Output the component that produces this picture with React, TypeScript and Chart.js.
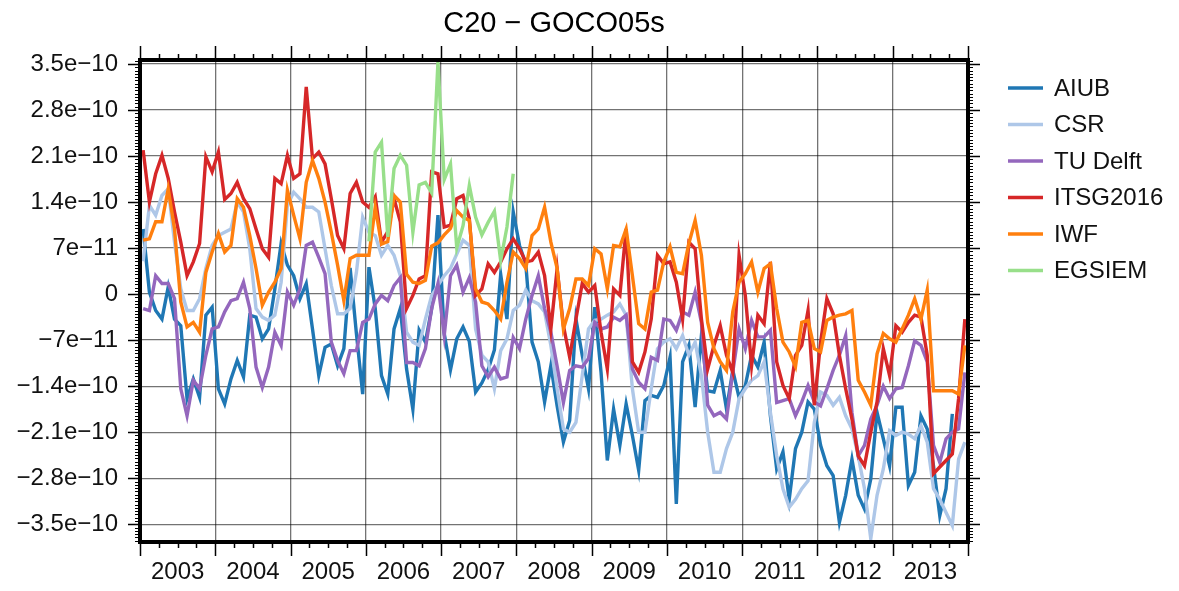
import React, { useEffect, useRef } from "react";
import { Chart, registerables } from "chart.js";

Chart.register(...registerables);

// values are in units of 1e-11
const UNIT = 1e-11;
const START_YEAR = 2003;
const END_YEAR = 2014;

const titleText = "C20 − GOCO05s";
const seriesNames = ["AIUB", "CSR", "TU Delft", "ITSG2016", "IWF", "EGSIEM"];
const seriesColors = ["#1f77b4", "#aec7e8", "#9467bd", "#d62728", "#ff7f0e", "#98df8a"];

const aiub = [
  9.9, 0.3, -2.5, -3.8, 1.1, -3.8, -4.8, -15.9, -12.9, -15.7,
  -3.2, -2.0, -14.4, -16.7, -12.9, -10.1, -12.6, -3.2, -3.5, -6.8,
  -5.3, 0.8, 7.7, 4.4, 2.8, -0.7, 1.6, -5.3, -12.4, -8.1,
  -7.6, -10.9, -8.3, 4.0, -6.0, -15.2, 4.1, -2.2, -12.4, -15.2,
  -5.3, -2.2, -11.4, -17.5, -5.5, -7.3, -2.2, 12.0, -6.0, -11.5,
  -6.8, -5.0, -7.2, -14.9, -13.5, -11.5, -8.5, 3.0, -3.8, 12.5,
  7.4, 4.6, -7.3, -10.3, -16.4, -10.9, -17.0, -22.5, -19.2, -3.8,
  -9.3, -14.4, -2.0, -11.9, -25.3, -17.5, -23.0, -16.7, -21.5, -26.8,
  -16.2, -15.4, -15.7, -13.9, -9.6, -31.9, -10.3, -7.8, -17.2, -6.3,
  -14.7, -14.9, -11.6, -17.5, -11.6, -15.7, -13.9, -9.3, -11.1, -7.3,
  -18.5, -26.6, -24.0, -31.2, -23.5, -21.0, -16.4, -17.5, -23.0, -26.1,
  -27.6, -34.7, -30.6, -25.1, -30.6, -32.7, -28.1, -18.0, -22.0, -26.1,
  -17.2, -17.2, -29.1, -27.1, -18.5, -20.5, -26.1, -33.7, -29.6, -18.2,
  null, null,
];

const csr = [
  5.0, 13.5, 12.0, 15.0, 16.0, 7.9, 0.8, -2.5, -2.5, -0.7,
  3.9, 7.4, 8.9, 9.4, 9.9, 14.0, 12.5, 6.9, -2.2, -3.5,
  -4.0, -3.2, 1.8, 13.5, 15.5, 14.5, 13.2, 13.2, 12.5, 6.9,
  1.3, -3.0, -3.0, -2.2, 3.3, 11.7, 9.4, 8.9, 5.9, 7.4,
  5.9, 2.8, -5.8, -7.3, -7.8, -3.8, -0.2, 1.3, 2.8, 3.9,
  6.1, 8.2, 7.4, -5.3, -9.3, -10.3, -14.4, -8.6, -6.8, -2.5,
  -1.7, 0.6, -1.0, -1.5, -2.7, -7.8, -14.4, -20.5, -21.0, -19.5,
  -12.4, -5.3, -4.0, -3.8, -3.2, -2.7, -1.5, -3.2, -14.4, -21.0,
  -21.0, -14.4, -8.3, -7.3, -6.8, -8.3, -6.3, -9.3, -7.3, -12.4,
  -21.0, -27.1, -27.1, -23.5, -21.0, -15.9, -14.4, -13.1, -12.4, -10.3,
  -18.0, -24.6, -29.6, -32.4, -31.2, -29.6, -28.4, -19.5, -14.9, -15.4,
  -16.9, -15.7, -18.5, -20.5, -24.6, -29.6, -37.2, -30.6, -26.6, -20.8,
  -21.5, -21.0, -21.3, -22.0, -20.0, -22.5, -29.6, -31.2, -33.2, -35.2,
  -25.1, -22.5,
];

const tuDelft = [
  -2.2, -2.5, 2.8, 1.6, 1.6, -0.7, -14.4, -18.5, -13.1, -14.4,
  -9.3, -5.3, -5.0, -2.7, -1.0, -0.7, 1.8, -2.2, -11.1, -14.2,
  -11.1, -5.8, -7.8, 0.3, -1.7, 0.8, 7.4, 7.9, 5.6, 3.1,
  -7.3, -10.1, -12.1, -8.6, -8.6, -4.3, -3.8, -1.5, -0.2, -1.0,
  1.3, 2.5, -10.4, -10.4, -10.9, -8.3, -2.2, 1.6, -6.3, 2.8,
  4.4, 0.3, 2.5, -1.2, -10.9, -12.6, -11.1, -12.9, -12.6, -6.6,
  -8.3, -3.8, -0.2, 2.8, -2.2, -5.8, -11.0, -16.5, -11.6, -10.9,
  -11.1, -9.8, -4.3, -5.3, -5.0, -3.5, -4.0, -3.2, -11.4, -13.4,
  -14.4, -9.6, -10.1, -3.8, -4.0, -5.5, -2.7, -3.2, 0.3, -4.3,
  -16.9, -18.5, -18.0, -19.0, -11.9, -5.3, -8.3, -4.0, -6.5, -6.5,
  -5.5, -16.5, -16.2, -15.9, -18.5, -16.4, -13.9, -16.4, -17.0, -14.4,
  -11.6, -9.3, -6.3, -18.0, -24.6, -23.0, -19.0, -16.9, -14.0, -15.9,
  -14.4, -14.2, -10.9, -7.1, -7.8, -10.3, -23.0, -25.6, -22.0, -21.0,
  -20.5, -11.9,
];

const itsg2016 = [
  21.9, 14.0, 18.3, 21.1, 17.6, 12.5, 7.9, 2.8, 4.9, 7.7,
  20.9, 18.6, 21.6, 14.4, 15.3, 17.0, 14.5, 13.0, 9.9, 6.9,
  5.6, 17.6, 16.8, 21.1, 17.6, 18.3, 31.5, 20.6, 21.6, 19.8,
  14.5, 8.9, 6.9, 15.3, 17.0, 14.0, 13.2, 14.8, 7.9, 9.5,
  14.5, 11.0, -2.2, -0.2, 2.3, 2.8, 18.6, 18.3, 10.2, 10.5,
  14.5, 15.0, 11.5, -0.2, 0.8, 4.6, 3.3, 4.9, 6.9, 8.4,
  6.9, 4.9, 5.1, 6.4, 2.8, -5.3, 3.9, -4.8, -9.6, -3.8,
  1.6, 0.3, 1.3, -5.8, -11.4, 0.8, -0.2, 9.9, -10.3, -11.9,
  -8.8, -3.8, 5.9, 4.6, 4.9, 1.8, -3.8, 7.9, 6.9, -3.8,
  -11.4, -7.8, -4.8, -9.3, -11.9, 5.9, -0.2, -10.9, -3.2, -4.5,
  4.9, -10.3, -13.9, -15.9, -9.3, -7.8, -2.5, -16.9, -7.3, -0.7,
  -3.0, -9.3, -14.4, -19.0, -24.6, -26.1, -21.0, -16.4, -8.3, -12.4,
  -4.8, -5.8, -4.3, -3.2, -3.5, -9.3, -27.3, -26.3, -25.3, -24.3,
  -15.9, -3.8,
];

const iwf = [
  8.2, 8.4, 11.0, 11.0, 16.0, 9.9, -1.2, -5.0, -4.3, -5.8,
  3.3, 6.4, 9.2, 6.4, 7.4, 14.5, 13.2, 8.9, 3.9, -1.7,
  0.3, 1.8, 3.9, 15.8, 12.0, 8.4, 17.0, 20.3, 17.6, 14.0,
  9.4, 4.4, -1.0, 5.4, 5.9, 5.9, 5.9, 13.2, 7.6, 8.0,
  15.0, 14.0, 3.0, 1.8, 1.6, 2.1, 7.3, 7.8, 9.0, 10.0,
  12.7, 11.7, 11.2, 0.8, -1.2, -1.5, -2.5, -3.8, 1.8, 6.4,
  5.4, 3.9, 8.9, 9.9, 13.2, 7.9, 3.9, -5.3, -2.2, 2.3,
  2.3, 1.3, 6.9, 6.1, 0.8, 7.4, 7.2, 9.9, 2.8, -4.5,
  -5.3, 0.3, 0.6, 4.9, 7.2, 3.3, 3.1, 7.7, 11.2, 5.9,
  -4.3, -8.3, -10.3, -11.6, -2.7, 1.8, 3.1, 4.9, 0.3, 3.9,
  4.6, -2.2, -7.3, -8.8, -11.0, -4.3, -4.0, -8.3, -8.8, -4.0,
  -3.5, -3.2, -3.0, -2.5, -13.1, -14.9, -16.9, -9.1, -6.0, -6.8,
  -7.3, -5.3, -3.2, -0.7, -3.8, 0.6, -14.7, -14.7, -14.7, -14.7,
  -15.2, -7.8,
];

// EGSIEM covers Jan 2006 – Dec 2007 (month index 36..59)
const egsiemStartMonth = 36;
const egsiem = [
  8.0, 21.6, 23.1, 8.7, 19.1, 21.1, 19.6, 9.4, 16.6, 17.0, 15.4, 35.3,
  17.4, 19.8, 7.0, 10.4, 16.5, 11.7, 9.0, 10.9, 12.6, 5.1, 10.2, 18.3,
];

const yTickValues = [-3.5e-10, -2.8e-10, -2.1e-10, -1.4e-10, -7e-11, 0, 7e-11, 1.4e-10, 2.1e-10, 2.8e-10, 3.5e-10];
const yTickLabels = ["−3.5e−10", "−2.8e−10", "−2.1e−10", "−1.4e−10", "−7e−11", "0", "7e−11", "1.4e−10", "2.1e−10", "2.8e−10", "3.5e−10"];
const yearLabels = ["2003", "2004", "2005", "2006", "2007", "2008", "2009", "2010", "2011", "2012", "2013"];

const Y_MIN = -3.77e-10;
const Y_MAX = 3.56e-10;
const FONT = "'Liberation Sans', Arial, Helvetica, sans-serif";

function monthToYear(i: number) {
  return START_YEAR + (i + 0.5) / 12;
}

function toPoints(vals: (number | null)[], start = 0) {
  return vals.map((v, i) => ({ x: monthToYear(start + i), y: v === null ? null : v * UNIT }));
}

const decorPlugin = {
  id: "decor",
  afterDraw(chart: any) {
    const { ctx, chartArea: a, scales } = chart;
    const x = scales.x;
    const y = scales.y;
    ctx.save();
    ctx.strokeStyle = "#000";
    // x ticks (quarterly) on top and bottom
    ctx.lineWidth = 1.5;
    for (let q = START_YEAR * 4; q <= END_YEAR * 4; q++) {
      const px = Math.round(x.getPixelForValue(q / 4)) + 0.5;
      const major = q % 4 === 0;
      const len = major ? 14 : 6;
      ctx.beginPath();
      ctx.moveTo(px, a.top);
      ctx.lineTo(px, a.top - len);
      ctx.moveTo(px, a.bottom);
      ctx.lineTo(px, a.bottom + len);
      ctx.stroke();
    }
    // y minor ticks every 5e-12, major every 7e-11
    for (let k = Math.ceil(Y_MIN / 5e-12); k <= Math.floor(Y_MAX / 5e-12); k++) {
      const py = Math.round(y.getPixelForValue(k * 5e-12)) + 0.5;
      const major = k % 14 === 0;
      const len = major ? 12 : 5;
      ctx.lineWidth = major ? 1.5 : 1;
      ctx.beginPath();
      ctx.moveTo(a.left, py);
      ctx.lineTo(a.left - len, py);
      ctx.moveTo(a.right, py);
      ctx.lineTo(a.right + len, py);
      ctx.stroke();
    }
    // frame
    ctx.lineWidth = 4;
    ctx.strokeRect(a.left, a.top, a.right - a.left, a.bottom - a.top);

    // title
    ctx.fillStyle = "#000";
    ctx.font = `29px ${FONT}`;
    ctx.textAlign = "center";
    ctx.textBaseline = "alphabetic";
    ctx.fillText(titleText, (a.left + a.right) / 2, 32);

    // legend
    ctx.font = `24px ${FONT}`;
    ctx.textAlign = "left";
    ctx.textBaseline = "middle";
    seriesNames.forEach((name, i) => {
      const ly = 88 + i * 36.5;
      ctx.strokeStyle = seriesColors[i];
      ctx.lineWidth = 3.5;
      ctx.beginPath();
      ctx.moveTo(1008, ly);
      ctx.lineTo(1043, ly);
      ctx.stroke();
      ctx.fillStyle = "#111";
      ctx.fillText(name, 1054, ly + 1);
    });
    ctx.restore();
  },
};

export default function App() {
  const canvasRef = useRef<HTMLCanvasElement | null>(null);

  useEffect(() => {
    const canvas = canvasRef.current;
    if (!canvas) return;
    const seriesData = [aiub, csr, tuDelft, itsg2016, iwf];
    const datasets: any[] = seriesData.map((vals, i) => ({
      label: seriesNames[i],
      data: toPoints(vals),
      borderColor: seriesColors[i],
      backgroundColor: seriesColors[i],
      borderWidth: 3.4,
      pointRadius: 0,
      tension: 0,
      spanGaps: false,
      order: 6 - i,
    }));
    datasets.push({
      label: seriesNames[5],
      data: toPoints(egsiem, egsiemStartMonth),
      borderColor: seriesColors[5],
      backgroundColor: seriesColors[5],
      borderWidth: 3.4,
      pointRadius: 0,
      tension: 0,
      order: 0,
    });

    const chart = new Chart(canvas, {
      type: "line",
      data: { datasets },
      plugins: [decorPlugin],
      options: {
        responsive: false,
        animation: false,
        events: [],
        layout: { padding: { left: 0, top: 60, right: 211, bottom: 0 } },
        plugins: {
          legend: { display: false },
          title: { display: false },
          tooltip: { enabled: false },
        },
        scales: {
          x: {
            type: "linear",
            min: START_YEAR,
            max: END_YEAR,
            afterBuildTicks: (axis: any) => {
              const ticks = [];
              for (let yv = START_YEAR; yv <= END_YEAR; yv++) ticks.push({ value: yv });
              axis.ticks = ticks;
            },
            afterFit: (scale: any) => {
              scale.height = 49;
            },
            border: { display: false },
            grid: { color: "rgba(0,0,0,0.55)", lineWidth: 1.3, drawTicks: false },
            ticks: {
              autoSkip: false,
              maxRotation: 0,
              padding: 16,
              labelOffset: 37.64,
              color: "#111",
              font: { family: FONT, size: 24 },
              callback: (_v: any, index: number) => yearLabels[index] ?? "",
            },
          },
          y: {
            type: "linear",
            min: Y_MIN,
            max: Y_MAX,
            afterBuildTicks: (axis: any) => {
              axis.ticks = yTickValues.map((v) => ({ value: v }));
            },
            afterFit: (scale: any) => {
              scale.width = 140;
            },
            border: { display: false },
            grid: { color: "rgba(0,0,0,0.55)", lineWidth: 1.3, drawTicks: false },
            ticks: {
              autoSkip: false,
              padding: 22,
              color: "#111",
              font: { family: FONT, size: 24 },
              callback: (_v: any, index: number) => yTickLabels[index] ?? "",
            },
          },
        },
      },
    });
    return () => chart.destroy();
  }, []);

  return (
    <div style={{ position: "fixed", left: 0, top: 0, width: 1179, height: 591, background: "#fff" }}>
      <canvas ref={canvasRef} width={1179} height={591} style={{ display: "block" }} />
    </div>
  );
}
